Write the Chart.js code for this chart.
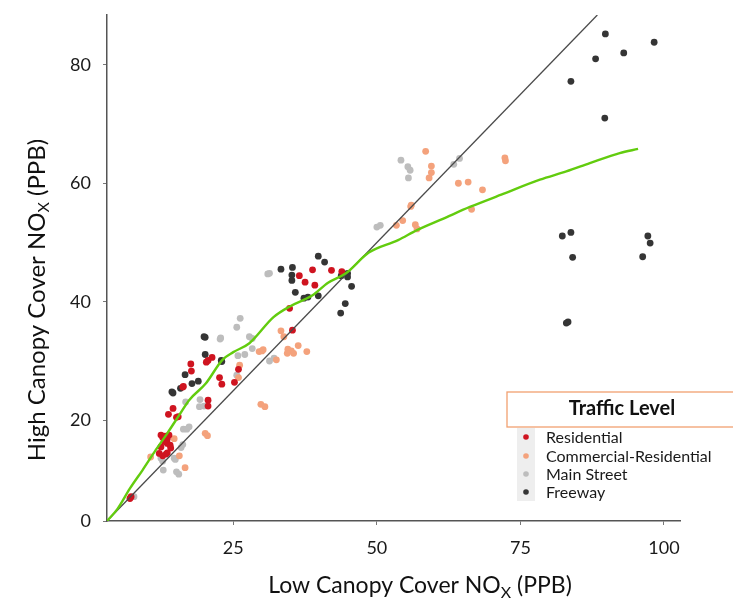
<!DOCTYPE html>
<html>
<head>
<meta charset="utf-8">
<script src="https://cdn.jsdelivr.net/npm/chart.js@4.4.1/dist/chart.umd.min.js"></script>
<style>
  html, body { margin: 0; padding: 0; background: #fff; }
  #wrap { width: 733px; height: 602px; position: relative; }
</style>
</head>
<body>
<div id="wrap"><canvas id="c" width="733" height="602"></canvas></div>
<script>
// NOx at paired sites (ppb): [low canopy cover, high canopy cover]
const residential = [
  [36.5,44.4],[38.8,45.4],[42.1,45.3],[43.9,45.1],[37.5,43.3],[39.2,42.8],[34.8,38.9],[35.3,35.2],
  [21.3,30.6],[20.6,30.1],[20.3,29.8],[17.6,29.5],[17.7,28.3],[16.3,25.7],[16.2,25.6],[22.6,27.2],
  [23.0,26.1],[25.2,26.4],[25.9,28.6],[20.6,23.4],[20.6,22.4],
  [14.5,22.0],[13.7,21.0],[15.1,20.5],[15.4,20.6],
  [12.4,17.5],[12.7,17.1],[13.1,17.3],[13.5,16.9],[13.8,17.5],[13.0,16.4],[13.5,16.1],[14.0,15.8],
  [14.1,15.3],[12.4,15.5],[12.1,14.4],[12.7,14.0],[13.3,14.3],[13.5,14.5],[7.2,7.1],[7.0,6.8]
];
const commercialResidential = [
  [58.5,65.4],[59.5,62.9],[59.5,61.8],[59.1,60.9],[64.2,60.0],[65.9,60.2],[68.4,58.9],[72.3,64.3],
  [72.4,63.8],[66.5,55.6],[56.0,56.3],[55.9,56.1],[54.5,53.7],[53.4,52.9],[56.7,53.0],[57.0,52.3],
  [33.3,35.1],[33.8,34.1],[34.5,32.0],[35.1,31.7],[35.5,31.3],[34.4,31.3],[36.3,32.6],[37.8,31.6],
  [29.5,31.6],[30.0,31.7],[30.2,31.9],[32.5,30.2],[26.1,29.3],[25.9,27.2],[29.8,22.7],[30.5,22.3],
  [14.7,16.9],[10.6,13.8],[15.6,14.0],[16.6,12.0],[20.1,17.8],[20.5,17.4]
];
const mainStreet = [
  [54.2,63.9],[55.4,62.8],[55.8,62.2],[55.5,60.9],[64.4,64.2],[63.4,63.2],[50.6,52.9],[50.0,52.6],
  [31.0,44.7],[31.3,44.8],[26.2,37.2],[25.6,35.7],[22.8,33.9],[22.7,33.7],[27.8,34.1],[28.3,33.8],
  [28.3,32.1],[25.8,30.9],[27.0,31.1],[31.3,30.0],[32.1,30.5],[25.6,27.6],[16.7,23.1],[19.2,23.5],
  [19.1,22.3],[19.9,22.4],
  [16.3,18.5],[16.9,18.5],[17.3,18.9],[15.9,15.4],[16.2,15.9],[14.7,13.6],[12.4,13.6],[12.7,13.1],
  [14.9,13.4],[12.8,11.6],[15.1,11.3],[15.5,10.9],[7.7,7.1]
];
const freeway = [
  [89.8,85.2],[98.3,83.8],[93.0,82.0],[88.1,81.0],[83.8,77.2],[89.7,71.0],[82.3,51.1],[83.8,51.7],
  [84.1,47.5],[97.2,51.1],[97.6,49.9],[96.3,47.6],[83.0,36.4],[83.3,36.6],
  [33.3,45.5],[35.3,45.8],[35.2,44.5],[35.2,43.6],[39.8,47.7],[40.9,46.7],[35.8,41.6],[37.3,40.6],
  [38.0,40.8],[39.8,41.0],[43.8,44.4],[44.9,44.8],[44.9,44.2],[45.6,42.6],[44.5,39.7],[43.7,38.1],
  [20.1,34.0],[19.9,34.1],[20.1,31.1],[22.9,30.1],[23.0,29.9],[16.6,27.7],[17.8,26.2],[18.9,26.6],
  [14.3,24.8],[14.5,24.6],[15.8,25.4]
];
// smoothed trend of high vs low canopy NOx
const smoothTrend = [
  [3.0,3.0],[4.8,5.0],[7.0,8.5],[9.2,11.6],[11.5,15.0],[13.5,17.8],[15.6,20.9],[17.3,23.4],
  [20.2,26.2],[23.1,30.2],[25.0,31.5],[27.8,33.0],[32.0,37.4],[35.0,39.3],[38.8,41.1],[41.5,43.2],
  [44.6,44.8],[48.6,48.3],[53.7,50.4],[57.0,52.1],[61.5,54.0],[66.2,56.0],[72.0,58.2],[78.4,60.6],
  [83.0,62.0],[87.1,63.4],[92.3,65.1],[95.5,65.8]
];
// 1:1 reference line
const oneToOne = [[3.0,3.0],[88.4,88.4]];

const seriesNames = ['Residential', 'Commercial-Residential', 'Main Street', 'Freeway'];
const seriesColors = ['#cf1420', '#f4a27c', '#bdbdbd', '#353535'];

const X_MIN = 3.0, X_MAX = 102.8;
const Y_MIN = 3.0, Y_MAX = 88.4;
const xTickValues = [25, 50, 75, 100];
const xTickLabels = ['25', '50', '75', '100'];
const yTickValues = [Y_MIN, 20, 40, 60, 80];
const yTickLabels = ['0', '20', '40', '60', '80'];

const toXY = arr => arr.map(([x, y]) => ({ x, y }));
const FONT = 'Lato, "Open Sans", sans-serif';

function drawTitle(ctx, parts, cx, cy, rotate, size) {
  ctx.save();
  ctx.translate(cx, cy);
  if (rotate) ctx.rotate(-Math.PI / 2);
  const big = size + 'px ' + FONT, small = Math.round(size * 0.68) + 'px ' + FONT;
  const widths = parts.map(p => { ctx.font = p.sub ? small : big; return ctx.measureText(p.t).width; });
  const total = widths.reduce((a, b) => a + b, 0);
  let x = -total / 2;
  ctx.fillStyle = '#111';
  ctx.textBaseline = 'alphabetic';
  ctx.textAlign = 'left';
  parts.forEach((p, i) => {
    ctx.font = p.sub ? small : big;
    ctx.fillText(p.t, x, p.sub ? size * 0.55 : size * 0.36);
    x += widths[i];
  });
  ctx.restore();
}

const axisTitles = {
  id: 'axisTitles',
  afterDraw(chart) {
    const ctx = chart.ctx;
    drawTitle(ctx, [{ t: 'Low Canopy Cover NO' }, { t: 'X', sub: true }, { t: ' (PPB)' }], 420, 585, false, 23);
    drawTitle(ctx, [{ t: 'High Canopy Cover NO' }, { t: 'X', sub: true }, { t: ' (PPB)' }], 36, 300, true, 24);
  }
};

const trafficLegend = {
  id: 'trafficLegend',
  afterDraw(chart) {
    const ctx = chart.ctx;
    ctx.save();
    // title box
    ctx.fillStyle = '#fff';
    ctx.fillRect(507, 392, 240, 35);
    ctx.strokeStyle = '#f2a070';
    ctx.lineWidth = 1.3;
    ctx.strokeRect(507, 392, 240, 35);
    ctx.fillStyle = '#111';
    ctx.font = 'bold 20px ' + FONT;
    ctx.textAlign = 'center';
    ctx.textBaseline = 'middle';
    ctx.fillText('Traffic Level', 622, 409);
    // marker strip
    ctx.fillStyle = '#eeeeee';
    ctx.fillRect(517, 428, 18, 73);
    const rows = [437, 456, 474, 492];
    const items = chart.data.datasets.filter(d => d.isTraffic);
    ctx.font = '16px ' + FONT;
    ctx.textAlign = 'left';
    items.forEach((d, i) => {
      ctx.beginPath();
      ctx.fillStyle = d.backgroundColor;
      ctx.arc(526, rows[i], 2.8, 0, Math.PI * 2);
      ctx.fill();
      ctx.fillStyle = '#1a1a1a';
      ctx.fillText(d.label, 546, rows[i] + 1);
    });
    ctx.restore();
  }
};

const pointSets = [residential, commercialResidential, mainStreet, freeway].map((arr, i) => ({
  type: 'scatter',
  label: seriesNames[i],
  isTraffic: true,
  data: toXY(arr),
  backgroundColor: seriesColors[i],
  borderColor: seriesColors[i],
  borderWidth: 0,
  pointRadius: 3.4,
  pointHoverRadius: 3.4,
  order: 3
}));

new Chart(document.getElementById('c'), {
  type: 'scatter',
  data: {
    datasets: [
      {
        type: 'line', label: 'trend', data: toXY(smoothTrend),
        borderColor: '#62cc0e', borderWidth: 2.4, pointRadius: 0,
        tension: 0.4, cubicInterpolationMode: 'monotone', fill: false, order: 1
      },
      {
        type: 'line', label: '1:1', data: toXY(oneToOne),
        borderColor: '#4a4a4a', borderWidth: 1.3, pointRadius: 0, fill: false, order: 2
      },
      ...pointSets
    ]
  },
  options: {
    responsive: false,
    animation: false,
    devicePixelRatio: 1,
    layout: { padding: { top: 15, right: 53, left: 0, bottom: 0 } },
    plugins: { legend: { display: false }, tooltip: { enabled: false } },
    scales: {
      x: {
        type: 'linear', min: X_MIN, max: X_MAX,
        afterBuildTicks: s => { s.ticks = xTickValues.map(v => ({ value: v })); },
        afterFit: s => { s.height = 81; s.paddingLeft = 0; s.paddingRight = 0; },
        ticks: {
          padding: 12, color: '#1a1a1a', font: { family: FONT, size: 18 },
          callback: v => xTickLabels[xTickValues.indexOf(v)]
        },
        grid: { drawOnChartArea: false, drawTicks: true, tickLength: 4, color: '#777' },
        border: { display: true, color: '#555', width: 1.5 }
      },
      y: {
        type: 'linear', min: Y_MIN, max: Y_MAX,
        afterBuildTicks: s => { s.ticks = yTickValues.map(v => ({ value: v })); },
        afterFit: s => { s.width = 107; s.paddingTop = 0; s.paddingBottom = 0; },
        ticks: {
          padding: 12, color: '#1a1a1a', font: { family: FONT, size: 18 },
          callback: v => yTickLabels[yTickValues.indexOf(v)]
        },
        grid: { drawOnChartArea: false, drawTicks: true, tickLength: 4, color: '#777' },
        border: { display: true, color: '#555', width: 1.5 }
      }
    }
  },
  plugins: [axisTitles, trafficLegend]
});
</script>
</body>
</html>
